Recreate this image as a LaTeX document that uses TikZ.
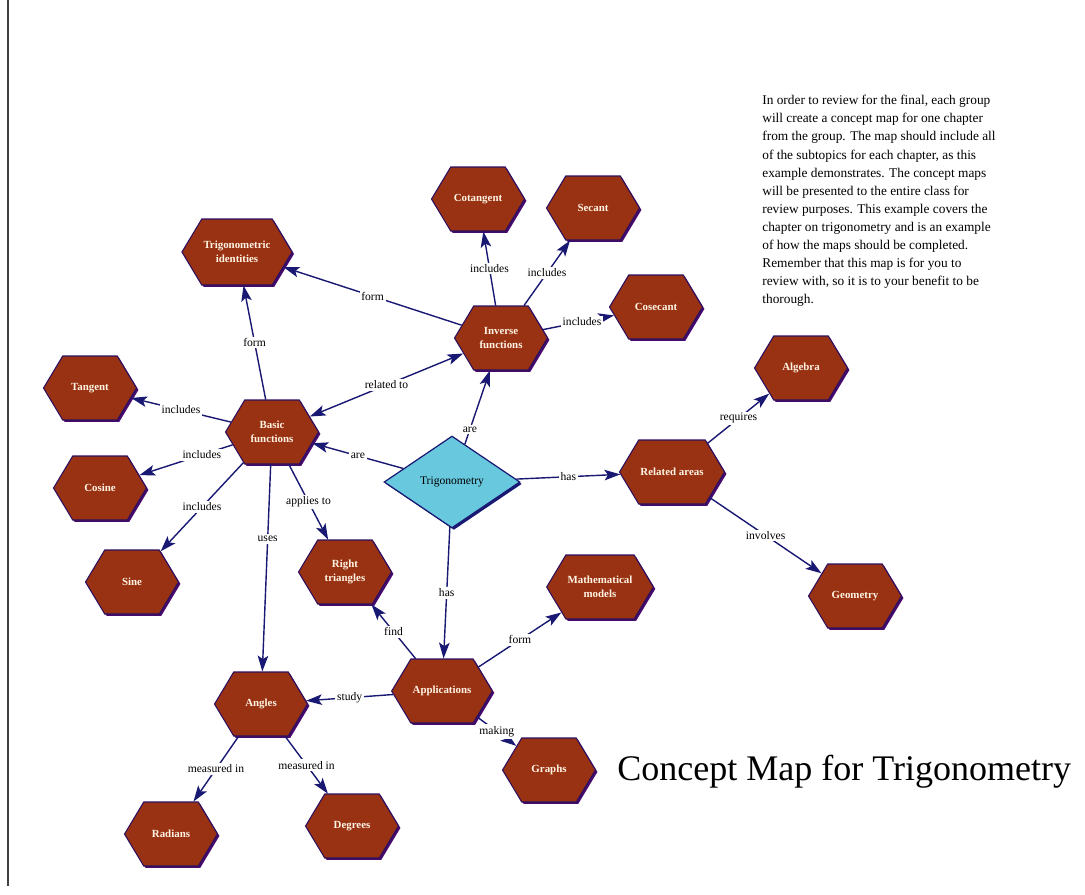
\documentclass[tikz,border=0pt]{standalone}
\usepackage{fontspec}
\setmainfont{Liberation Serif}
\usepackage{xcolor}
\usetikzlibrary{shapes,arrows.meta,shadows}

\definecolor{hexbrown}{RGB}{152,50,18}
\definecolor{hexedge}{RGB}{45,15,95}
\definecolor{hexshade}{RGB}{70,10,110}
\definecolor{linknavy}{RGB}{25,25,115}
\definecolor{trigcyan}{RGB}{104,200,222}
\definecolor{hextext}{RGB}{255,244,228}

\begin{document}
\begin{tikzpicture}[
    x=0.02cm, y=-0.02cm,
    concept/.style={signal, signal to=east and west, signal pointer angle=118,
        draw=hexedge, line width=0.6pt, fill=hexbrown, text=hextext,
        font=\fontsize{6.2}{7.8}\selectfont\bfseries, align=center,
        minimum width=1.86cm, minimum height=1.28cm, inner sep=1pt,
        drop shadow={shadow xshift=1.1pt, shadow yshift=-1.1pt, fill=hexshade, opacity=1}},
    topic/.style={diamond, draw=linknavy, line width=0.7pt, fill=trigcyan,
        minimum width=2.72cm, minimum height=1.84cm, inner sep=0pt,
        font=\fontsize{6.6}{8}\selectfont,
        drop shadow={shadow xshift=1.1pt, shadow yshift=-1.1pt, fill=linknavy, opacity=1}},
    arrow/.style={-{Stealth[length=9pt,width=6pt,inset=2pt]}, draw=linknavy, line width=0.8pt},
    both/.style={{Stealth[length=9pt,width=6pt,inset=2pt]}-{Stealth[length=9pt,width=6pt,inset=2pt]}, draw=linknavy, line width=0.8pt},
    lbl/.style={fill=white, inner sep=1pt, text=black, font=\fontsize{6.6}{8}\selectfont}
]
\useasboundingbox (0,0) rectangle (1085,894);

% page edge
\draw[line width=0.9pt, black!75] (8,0) -- (8,886);

% concepts
\node[topic] (trig) at (452,482) {Trigonometry};
\node[concept] (basic) at (272,432) {Basic\\functions};
\node[concept] (inverse) at (501,338) {Inverse\\functions};
\node[concept, minimum width=2.1cm, minimum height=1.32cm] (ident) at (237,252) {Trigonometric\\identities};
\node[concept] (cot) at (478,199) {Cotangent};
\node[concept] (sec) at (593,208) {Secant};
\node[concept] (csc) at (656,307) {Cosecant};
\node[concept] (tan) at (90,388) {Tangent};
\node[concept] (cos) at (100,488) {Cosine};
\node[concept] (sin) at (132,582) {Sine};
\node[concept] (right) at (345,572) {Right\\triangles};
\node[concept] (related) at (672,472) {Related areas};
\node[concept] (algebra) at (801,368) {Algebra};
\node[concept] (geometry) at (855,596) {Geometry};
\node[concept, minimum width=2.12cm] (models) at (600,587) {Mathematical\\models};
\node[concept, minimum width=2.0cm] (apps) at (442,691) {Applications};
\node[concept] (angles) at (261,704) {Angles};
\node[concept] (graphs) at (549,770) {Graphs};
\node[concept] (radians) at (171,834) {Radians};
\node[concept] (degrees) at (352,826) {Degrees};

% links
\draw[arrow] (basic) -- node[lbl] {form} (ident);
\draw[arrow] (inverse) -- node[lbl] {form} (ident);
\draw[arrow] (inverse) -- node[lbl] {includes} (cot);
\draw[arrow] (inverse) -- node[lbl] {includes} (sec);
\draw[arrow] (inverse) -- node[lbl, pos=0.55] {includes} (csc);
\draw[both] (basic) -- node[lbl] {related to} (inverse);
\draw[arrow] (trig) -- node[lbl, pos=0.2] {are} (inverse);
\draw[arrow] (trig) -- node[lbl] {are} (basic);
\draw[arrow] (basic) -- node[lbl] {includes} (tan);
\draw[arrow] (basic) -- node[lbl, pos=0.33] {includes} (cos);
\draw[arrow] (basic) -- node[lbl] {includes} (sin);
\draw[arrow] (basic) -- node[lbl, pos=0.36] {uses} (angles);
\draw[arrow] (basic) -- node[lbl] {applies to} (right);
\draw[arrow] (trig) -- node[lbl] {has} (related);
\draw[arrow] (related) -- node[lbl] {requires} (algebra);
\draw[arrow] (related) -- node[lbl] {involves} (geometry);
\draw[arrow] (trig) -- node[lbl] {has} (apps);
\draw[arrow] (apps) -- node[lbl] {find} (right);
\draw[arrow] (apps) -- node[lbl] {form} (models);
\draw[arrow] (apps) -- node[lbl] {study} (angles);
\draw[arrow] (apps) -- node[lbl] {making} (graphs);
\draw[arrow] (angles) -- node[lbl] {measured in} (radians);
\draw[arrow] (angles) -- node[lbl] {measured in} (degrees);

% notes
\node[anchor=north west, align=left, inner sep=0pt, font=\fontsize{7.6}{10.3}\selectfont] (intro) at (762,95)
  {In order to review for the final, each group\\
   will create a concept map for one chapter\\
   from the group. The map should include all\\
   of the subtopics for each chapter, as this\\
   example demonstrates. The concept maps\\
   will be presented to the entire class for\\
   review purposes. This example covers the\\
   chapter on trigonometry and is an example\\
   of how the maps should be completed.\\
   Remember that this map is for you to\\
   review with, so it is to your benefit to be\\
   thorough.};
\node[anchor=west, inner sep=0pt, font=\fontsize{20.5}{24}\selectfont] (title) at (617,772) {Concept Map for Trigonometry};
\end{tikzpicture}
\end{document}
